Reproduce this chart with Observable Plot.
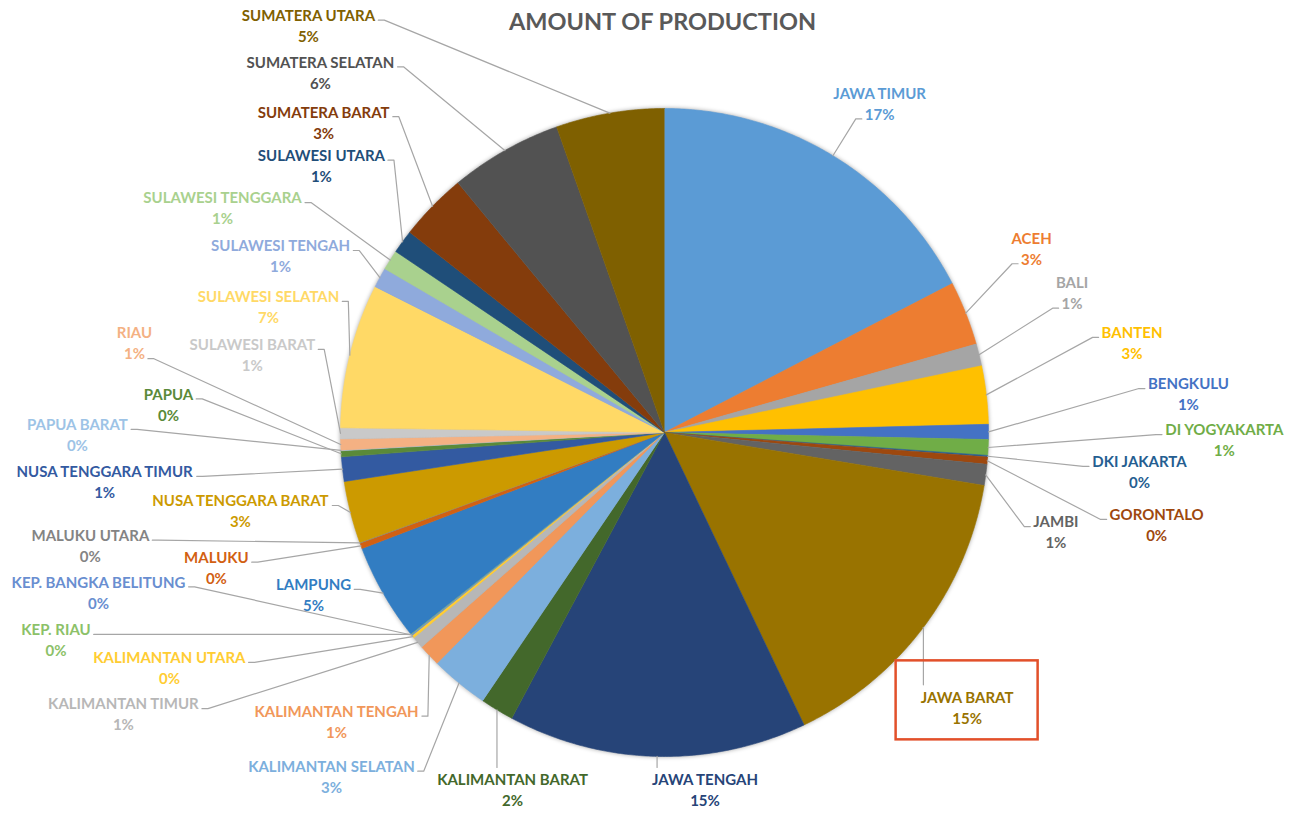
<!DOCTYPE html>
<html>
<head>
<meta charset="utf-8">
<script src="https://cdn.jsdelivr.net/npm/d3@7"></script>
<script src="https://cdn.jsdelivr.net/npm/@observablehq/plot@0.6"></script>
<style>
  html, body { margin: 0; padding: 0; background: #ffffff; }
  #chart { width: 1296px; height: 821px; }
</style>
</head>
<body>
<div id="chart"></div>
<script>
// ---------------- data ----------------
const chartTitle = "AMOUNT OF PRODUCTION";

const provinces = [
  "JAWA TIMUR", "ACEH", "BALI", "BANTEN", "BENGKULU", "DI YOGYAKARTA",
  "DKI JAKARTA", "GORONTALO", "JAMBI", "JAWA BARAT", "JAWA TENGAH",
  "KALIMANTAN BARAT", "KALIMANTAN SELATAN", "KALIMANTAN TENGAH",
  "KALIMANTAN TIMUR", "KALIMANTAN UTARA", "KEP. BANGKA BELITUNG", "KEP. RIAU",
  "LAMPUNG", "MALUKU", "MALUKU UTARA", "NUSA TENGGARA BARAT",
  "NUSA TENGGARA TIMUR", "PAPUA", "PAPUA BARAT", "RIAU", "SULAWESI BARAT",
  "SULAWESI SELATAN", "SULAWESI TENGAH", "SULAWESI TENGGARA",
  "SULAWESI UTARA", "SUMATERA BARAT", "SUMATERA SELATAN", "SUMATERA UTARA"
];

// share of production, %
const shares = [
  17.4, 3.2, 1.1, 2.9, 0.75, 0.78,
  0.08, 0.36, 1.05, 15.3, 14.9,
  1.67, 2.9, 1.1,
  0.6, 0.14, 0.06, 0.03,
  4.86, 0.28, 0.03, 3.1,
  1.22, 0.3, 0.03, 0.55, 0.55,
  7.2, 1.0, 1.0,
  1.17, 3.4, 5.6, 5.4
];

const highlighted = "JAWA BARAT";

// ---------------- styles ----------------
const palette = [
  "#5B9BD5", "#ED7D31", "#A5A5A5", "#FFC000", "#4472C4", "#70AD47",
  "#255E91", "#9E480E", "#636363", "#997300", "#264478",
  "#43682B", "#7CAFDD", "#F1975A",
  "#B7B7B7", "#FFCD33", "#698ED0", "#8CC168",
  "#327DC2", "#D26012", "#848484", "#CC9A00",
  "#335AA1", "#5A8A39", "#9DC3E6", "#F4B183", "#C9C9C9",
  "#FFD966", "#8FAADC", "#A9D18E",
  "#1F4E79", "#843C0C", "#525252", "#7F6000"
];

// ---------------- label layout (name centre, in pie-radius units from the pie centre) ----------------
const labelX = [
  0.664, 1.133, 1.258, 1.443, 1.617, 1.728,
  1.466, 1.519, 1.208, 0.934, 0.125,
  -0.469, -1.028, -1.012,
  -1.670, -1.528, -1.747, -1.878,
  -1.083, -1.383, -1.772, -1.309,
  -1.728, -1.531, -1.812, -1.636, -1.272,
  -1.222, -1.185, -1.364,
  -1.059, -1.052, -1.062, -1.099
];
const labelY = [
  1.045, 0.598, 0.461, 0.306, 0.148, 0.006,
  -0.092, -0.256, -0.278, -0.819, -1.074,
  -1.074, -1.033, -0.863,
  -0.840, -0.697, -0.464, -0.611,
  -0.472, -0.388, -0.320, -0.213,
  -0.123, 0.116, 0.022, 0.305, 0.269,
  0.417, 0.574, 0.722,
  0.853, 0.987, 1.141, 1.285
];

// ---------------- geometry ----------------
const W = 1296, H = 821;
const CX = 664, CY = 432, R = 324;         // pie centre and radius (px)
const FS = 15, FONT = "Lato";              // label font
const LINE = 21;                           // name -> percent line spacing (px)
const GAP = 3, TICK = 6;

const total = d3.sum(shares);
const pctText = shares.map(v => Math.round(v / total * 100) + "%");
const arcs = d3.pie().sort(null).value(d => d)(shares);

// slice polygons in pie-radius units
const slicePts = [];
arcs.forEach((a, i) => {
  const name = provinces[i];
  slicePts.push({name, x: 0, y: 0});
  const n = Math.max(2, Math.ceil((a.endAngle - a.startAngle) / (Math.PI / 360)));
  for (let k = 0; k <= n; k++) {
    const t = a.startAngle + (a.endAngle - a.startAngle) * k / n;
    slicePts.push({name, x: Math.sin(t), y: Math.cos(t)});
  }
});

// labels
const labels = provinces.map((name, i) => ({name, pct: pctText[i], x: labelX[i], y: labelY[i]}));

// leader lines
const ctx = document.createElement("canvas").getContext("2d");
ctx.font = `bold ${FS}px ${FONT}`;
const toU = (px, py) => ({x: (px - CX) / R, y: (CY - py) / R});
const leaders = [];
arcs.forEach((a, i) => {
  const name = provinces[i];
  const mid = (a.startAngle + a.endAngle) / 2;
  const px = CX + R * Math.sin(mid), py = CY - R * Math.cos(mid);
  const lx = CX + R * labelX[i], ly = CY - R * labelY[i];
  const wN = ctx.measureText(name).width, wP = ctx.measureText(pctText[i]).width;
  const nL = lx - wN / 2, nR = lx + wN / 2;
  let pts;
  if (px >= nL && px <= nR && ly > py) {
    pts = [[px, py], [px, ly - 13]];
  } else {
    const left = px < lx;
    const cands = left
      ? [[nL - GAP, ly + 4, -1], [lx - wP / 2 - GAP, ly + LINE + 4, -1]]
      : [[nR + GAP, ly + 4, 1], [lx + wP / 2 + GAP, ly + LINE + 4, 1]];
    let best = cands[0], bd = Infinity;
    for (const c of cands) {
      const d = Math.hypot(c[0] - px, c[1] - py);
      if (d < bd) { bd = d; best = c; }
    }
    const [ax, ay, dir] = best;
    pts = [[ax, ay], [ax + dir * TICK, ay], [px, py]];
  }
  pts.forEach(p => leaders.push({name, ...toU(p[0], p[1])}));
});

// highlight box around the highlighted label
const hi = labels.find(d => d.name === highlighted);
const hiBox = [{
  x1: hi.x - 71 / R, x2: hi.x + 71 / R,
  y1: hi.y + 37 / R, y2: hi.y - 42 / R
}];

const chart = Plot.plot({
  width: W, height: H,
  margin: 0,
  x: {domain: [-CX / R, (W - CX) / R], axis: null},
  y: {domain: [(CY - H) / R, CY / R], axis: null},
  color: {domain: provinces, range: palette, type: "ordinal"},
  marks: [
    Plot.line(slicePts, {x: "x", y: "y", z: "name", fill: "name", stroke: "name", strokeWidth: 0.6, curve: "linear"}),
    Plot.line(leaders, {x: "x", y: "y", z: "name", stroke: "#A6A6A6", strokeWidth: 1.2}),
    Plot.text(labels, {x: "x", y: "y", text: "name", fill: "name", fontFamily: FONT, fontWeight: "bold", fontSize: FS}),
    Plot.text(labels, {x: "x", y: "y", text: "pct", dy: LINE, fill: "name", fontFamily: FONT, fontWeight: "bold", fontSize: FS}),
    Plot.rect(hiBox, {x1: "x1", x2: "x2", y1: "y1", y2: "y2", fill: "none", stroke: "#E2502A", strokeWidth: 2.5}),
    Plot.text([chartTitle], {frameAnchor: "top", dx: 14, dy: 22, lineAnchor: "middle", text: d => d, fill: "#595959", fontFamily: FONT, fontWeight: "bold", fontSize: 23.5})
  ]
});

const pieGroup = chart.querySelector('g[aria-label="line"]');
if (pieGroup) pieGroup.style.filter = "drop-shadow(0px 0px 2px rgba(0,0,0,0.35))";
document.getElementById("chart").appendChild(chart);
</script>
</body>
</html>
